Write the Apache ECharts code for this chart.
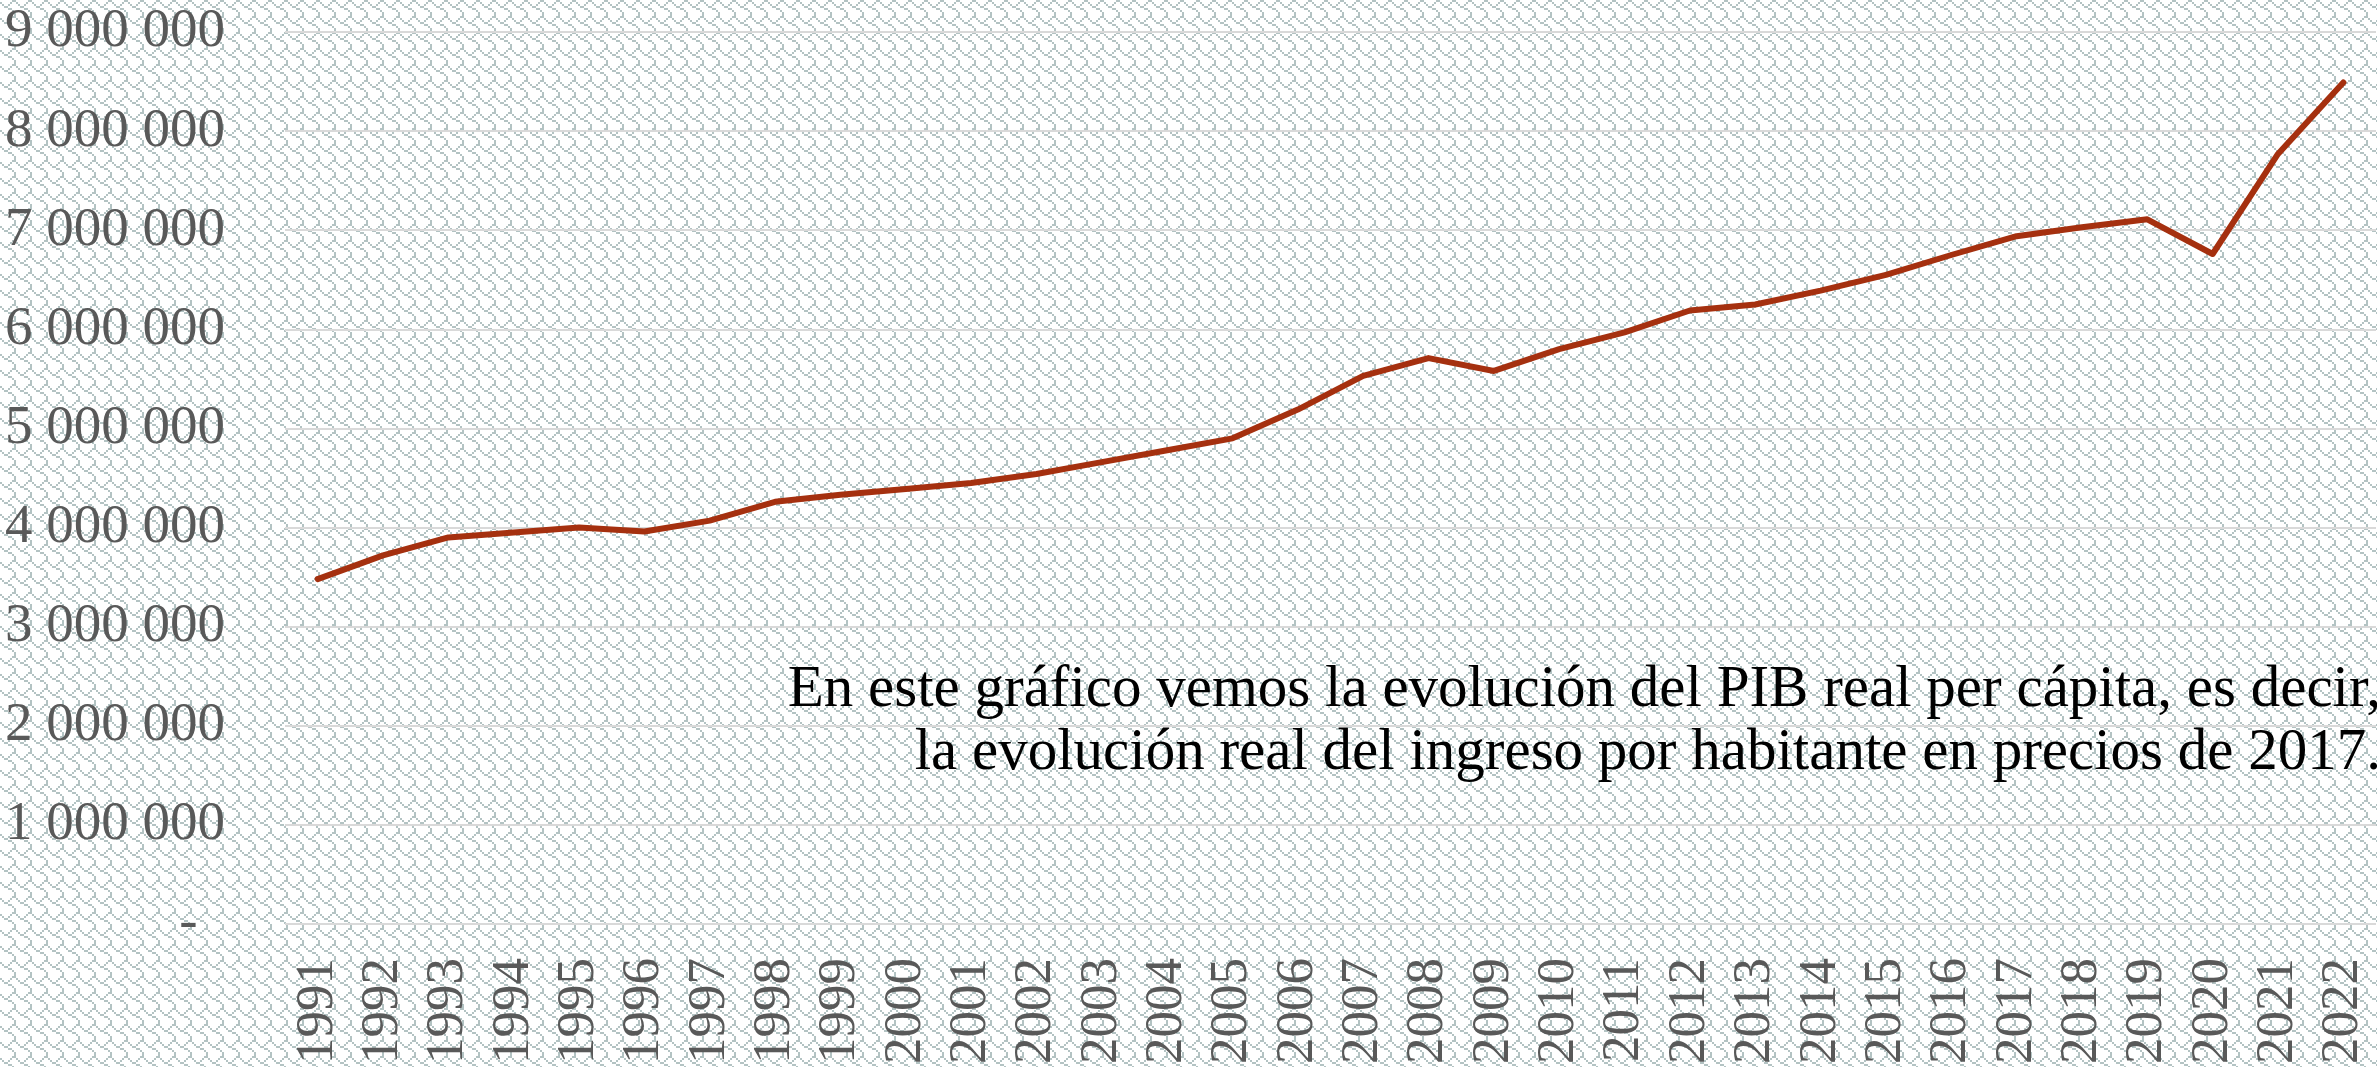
<!DOCTYPE html>
<html>
<head>
<meta charset="utf-8">
<script src="https://cdn.jsdelivr.net/npm/echarts@6/dist/echarts.min.js"></script>
<style>
  html, body { margin: 0; padding: 0; background: #fff; }
  #chart { width: 2377px; height: 1067px; }
</style>
</head>
<body>
<div id="chart"></div>
<script>
// datos: PIB real per cápita (precios 2017)
const years = ['1991', '1992', '1993', '1994', '1995', '1996', '1997', '1998', '1999', '2000',
    '2001', '2002', '2003', '2004', '2005', '2006', '2007', '2008', '2009', '2010',
    '2011', '2012', '2013', '2014', '2015', '2016', '2017', '2018', '2019', '2020',
    '2021', '2022'];
const pibPerCapita = [3480000, 3720000, 3900000, 3950000, 4000000, 3960000, 4070000, 4260000, 4330000, 4390000,
    4450000, 4540000, 4660000, 4780000, 4900000, 5190000, 5530000, 5710000, 5580000, 5800000,
    5970000, 6190000, 6250000, 6390000, 6550000, 6750000, 6940000, 7030000, 7110000, 6760000,
    7770000, 8490000];
const yTicks = [0, 1000000, 2000000, 3000000, 4000000, 5000000, 6000000, 7000000, 8000000, 9000000];
const nota = ['En este gráfico vemos la evolución del PIB real per cápita, es decir,',
    'la evolución real del ingreso por habitante en precios de 2017.'];

// fondo con trama tipo "tejas"
function makePattern() {
    let bits = [0x03, 0x84, 0x48, 0x30, 0x0C, 0x02, 0x01, 0x01];
    let c = document.createElement('canvas');
    c.width = 16;
    c.height = 16;
    let ctx = c.getContext('2d');
    ctx.fillStyle = '#ffffff';
    ctx.fillRect(0, 0, 16, 16);
    ctx.fillStyle = '#b3c3c3';
    for (let r = 0; r < 8; r++) {
        for (let b = 0; b < 8; b++) {
            if (bits[r] & (0x80 >> b)) {
                ctx.fillRect(b * 2, r * 2, 2, 2);
            }
        }
    }
    return c;
}

function fmt(v) {
    if (v === 0) return '-  ';
    return String(v).replace(/\B(?=(\d{3})+(?!\d))/g, ' ');
}

const font = "'Liberation Serif', 'Times New Roman', serif";
let myChart = echarts.init(document.getElementById('chart'));

let option = {
    backgroundColor: { image: makePattern(), repeat: 'repeat' },
    animation: false,
    grid: { left: 285, right: 1, top: 32, bottom: 142 },
    xAxis: {
        type: 'category',
        data: years,
        boundaryGap: true,
        axisLine: { show: false },
        axisTick: { show: false },
        axisLabel: {
            rotate: 90,
            margin: 34,
            fontSize: 53,
            fontFamily: font,
            color: '#595959',
            interval: 0
        }
    },
    yAxis: {
        type: 'value',
        min: yTicks[0],
        max: yTicks[yTicks.length - 1],
        interval: yTicks[1] - yTicks[0],
        axisLine: { show: false },
        axisTick: { show: false },
        splitLine: { lineStyle: { color: '#d9d9d9', width: 2 } },
        axisLabel: {
            margin: 60,
            fontSize: 55,
            fontFamily: font,
            color: '#595959',
            formatter: fmt
        }
    },
    series: [{
        type: 'line',
        data: pibPerCapita,
        symbol: 'none',
        lineStyle: { color: '#a5300f', width: 6, cap: 'round', join: 'round' }
    }],
    graphic: nota.map(function (t, i) {
        return {
            type: 'text',
            x: 2381,
            y: 690 + i * 63,
            style: {
                text: t,
                font: "59px " + font,
                fill: '#000000',
                align: 'right',
                verticalAlign: 'middle'
            }
        };
    })
};

myChart.setOption(option);
</script>
</body>
</html>
